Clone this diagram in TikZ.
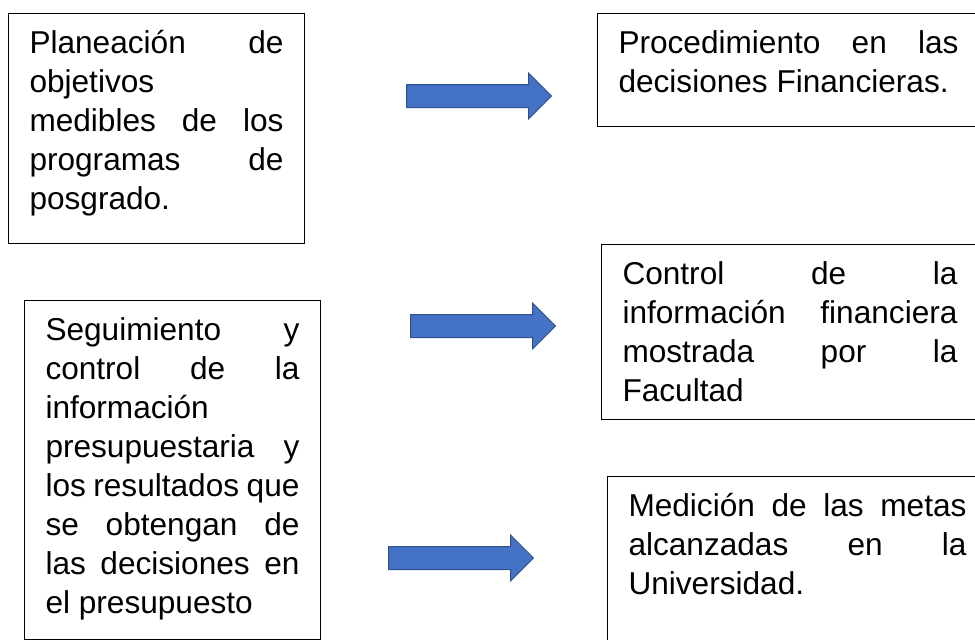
\documentclass[tikz,border=0pt]{standalone}
\usepackage{fontspec}
\setmainfont{Liberation Sans}
\usepackage{tikz}
\usetikzlibrary{shapes.arrows}
\definecolor{flechaazul}{HTML}{4472C4}
\definecolor{flechaborde}{HTML}{2F528F}
\newcommand{\textocaja}[3]{\parbox[c][#2][t]{#1}{\hyphenpenalty=10000\tolerance=10000\strut #3}}

\begin{document}
\begin{tikzpicture}[x=1pt,y=-1pt,
	caja/.style={draw=black,line width=1pt,anchor=north west,inner xsep=21pt,inner ysep=13pt,font=\fontsize{31.6}{39}\selectfont},
	flecha/.style={single arrow,draw=flechaborde,fill=flechaazul,line width=1pt,anchor=tail,inner xsep=0pt,inner ysep=11pt,minimum height=145pt,single arrow head extend=11.5pt}]
	\useasboundingbox (0,0) rectangle (975,640);
	\node[caja] (planeacion) at (8,13)
		{\textocaja{254pt}{204pt}{Planeación de\linebreak objetivos\linebreak medibles de los\linebreak programas de\linebreak posgrado.}};
	\node[caja] (seguimiento) at (24,300)
		{\textocaja{254pt}{312.5pt}{Seguimiento y\linebreak control de la\linebreak información\linebreak presupuestaria y\linebreak los resultados que\linebreak se obtengan de\linebreak las decisiones en\linebreak el presupuesto}};
	\node[caja] (procedimiento) at (597,13)
		{\textocaja{340pt}{87pt}{Procedimiento en las\linebreak decisiones Financieras.}};
	\node[caja] (control) at (601,244)
		{\textocaja{335pt}{149pt}{Control de la\linebreak información financiera\linebreak mostrada por la\linebreak Facultad}};
	\node[caja] (medicion) at (607,476)
		{\textocaja{338pt}{158pt}{Medición de las metas\linebreak alcanzadas en la\linebreak Universidad.}};
	\node[flecha] (flecha1) at (406,96) {};
	\node[flecha] (flecha2) at (410,326) {};
	\node[flecha] (flecha3) at (388,558) {};
\end{tikzpicture}
\end{document}
